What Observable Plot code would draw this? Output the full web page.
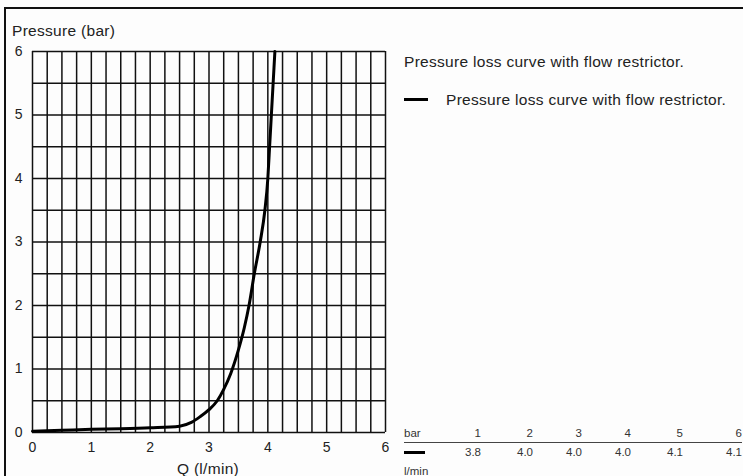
<!DOCTYPE html>
<html>
<head>
<meta charset="utf-8">
<script src="https://cdn.jsdelivr.net/npm/d3@7"></script>
<script src="https://cdn.jsdelivr.net/npm/@observablehq/plot@0.6"></script>
<style>
  html, body { margin: 0; padding: 0; background: #fdfdfd; }
  #wrap { position: relative; width: 743px; height: 476px; overflow: hidden; font-family: "Liberation Sans", Arial, sans-serif; color: #222; }
  #frame { position: absolute; left: 4px; top: 7px; width: 800px; height: 600px; border-top: 2px solid #111; border-left: 2px solid #111; }
  .lbl { position: absolute; font-size: 15.5px; line-height: 15.5px; letter-spacing: 0.3px; white-space: nowrap; }
  #tbl { position: absolute; left: 404px; top: 426px; font-size: 11.5px; color: #333; }
  #tbl table { border-collapse: collapse; }
  #tbl td { padding: 0; text-align: right; line-height: 14px; }
  #tbl tr.head td { border-bottom: 1.5px solid #444; padding-bottom: 2px; }
  #tbl tr.vals td { padding-top: 2px; }
  #tbl td.first { text-align: left; }
  .sw { display: inline-block; width: 21px; height: 3px; background: #000; vertical-align: middle; }
</style>
</head>
<body>
<div id="wrap">
  <div id="frame"></div>
  <div id="chart" style="position:absolute;left:0;top:0"></div>
  <div class="lbl" style="left:12px;top:23px">Pressure (bar)</div>
  <div class="lbl" style="left:208px;top:461px;transform:translateX(-50%)">Q (l/min)</div>
  <div class="lbl" id="title" style="left:404px;top:54px"></div>
  <div class="lbl" style="left:404px;top:92px"><span class="sw" style="width:24px;height:3px;margin-right:18px;vertical-align:4px"></span><span id="legtext"></span></div>
  <div id="tbl"></div>
  <div class="lbl" style="left:404px;top:465px;font-size:11.5px;line-height:12px;letter-spacing:0;color:#333">l/min</div>
</div>
<script>
// Data
const seriesName = "Pressure loss curve with flow restrictor.";
const flowQ =     [0,    0.5,   1,    1.5,  2,     2.5,  2.7,  2.85, 3.0,  3.14, 3.25, 3.37, 3.5, 3.6,  3.68, 3.77, 3.87, 3.95, 4.0, 4.03, 4.06, 4.09, 4.12];
const pressureP = [0.02, 0.035, 0.05, 0.06, 0.075, 0.1,  0.16, 0.25, 0.36, 0.5,  0.68, 0.93, 1.3, 1.65, 2.0,  2.5,  3.0,  3.5,  4.0, 4.5,  5.0,  5.5,  6.0];
const xTicks = [0, 1, 2, 3, 4, 5, 6];
const yTicks = [0, 1, 2, 3, 4, 5, 6];
const xGrid = d3.range(0, 6.0001, 0.25);
const yGrid = d3.range(0, 6.0001, 0.5);
const tableBar = [1, 2, 3, 4, 5, 6];
const tableFlow = ["3.8", "4.0", "4.0", "4.0", "4.1", "4.1"];
const tableColW = [49, 52, 49, 49, 52, 59];

const curve = flowQ.map((q, i) => ({q, p: pressureP[i]}));

const chart = Plot.plot({
  width: 743,
  height: 476,
  marginLeft: 32,
  marginRight: 358,
  marginTop: 51,
  marginBottom: 44,
  style: {background: "transparent", fontFamily: "Liberation Sans, Arial, sans-serif", fontSize: "14px", color: "#222"},
  x: {domain: [0, 6], ticks: xTicks, tickSize: 0, tickPadding: 10, label: null, tickFormat: d3.format("d")},
  y: {domain: [0, 6], ticks: yTicks, tickSize: 0, tickPadding: 10, label: null, tickFormat: d3.format("d")},
  marks: [
    Plot.ruleX(xGrid, {y1: 0, y2: 6, stroke: "#111", strokeWidth: 1.5}),
    Plot.ruleY(yGrid, {x1: 0, x2: 6, stroke: "#111", strokeWidth: 1.5}),
    Plot.line(curve, {x: "q", y: "p", curve: "monotone-x", stroke: "#000", strokeWidth: 3})
  ]
});
document.getElementById("chart").appendChild(chart);
document.getElementById("title").textContent = seriesName;
document.getElementById("legtext").textContent = seriesName;

// table
const tbl = document.createElement("table");
const colgroup = document.createElement("colgroup");
[28, ...tableColW].forEach(w => { const c = document.createElement("col"); c.style.width = w + "px"; colgroup.appendChild(c); });
tbl.appendChild(colgroup);
const r1 = tbl.insertRow(); r1.className = "head";
const c0 = r1.insertCell(); c0.className = "first"; c0.textContent = "bar";
tableBar.forEach(b => { r1.insertCell().textContent = b; });
const r2 = tbl.insertRow(); r2.className = "vals";
const c1 = r2.insertCell(); c1.className = "first"; c1.innerHTML = '<span class="sw"></span>';
tableFlow.forEach(v => { r2.insertCell().textContent = v; });
document.getElementById("tbl").appendChild(tbl);
</script>
</body>
</html>
